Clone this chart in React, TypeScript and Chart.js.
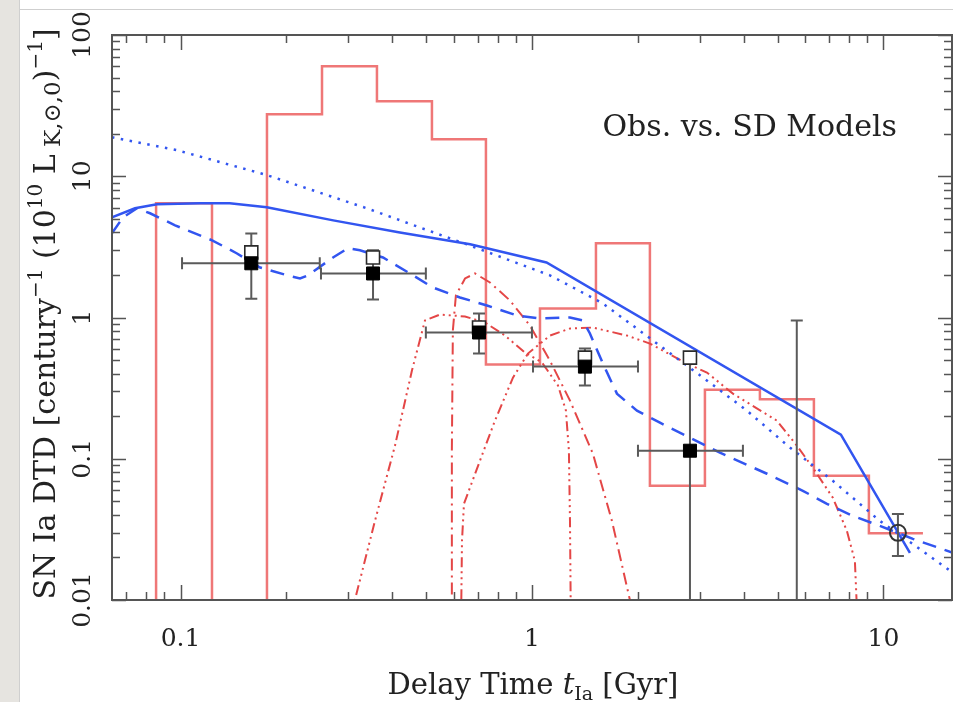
import React, { useEffect, useRef } from "react";
import { Chart, registerables } from "chart.js";

Chart.register(...registerables);

const W = 953;
const H = 702;
const FONT = '"DejaVu Serif", serif';

// Axis ranges and tick labels
const X_MIN = 0.06383;
const X_MAX = 15.78;
const Y_MIN = 0.01;
const Y_MAX = 100;
const xTickValues = [0.1, 1, 10];
const xTickLabels = ["0.1", "1", "10"];
const yTickValues = [0.01, 0.1, 1, 10, 100];
const yTickLabels = ["0.01", "0.1", "1", "10", "100"];

// Red histogram (bin edges in Gyr, heights; 0 = empty bin)
const histEdges = [0.0852, 0.1229, 0.1762, 0.2527, 0.3622, 0.5193, 0.7397, 1.054, 1.521, 2.166, 3.106, 4.453, 6.343, 9.095, 12.96];
const histHeights = [6.43, 0, 27.5, 60, 34, 18.3, 0.464, 1.16, 3.35, 0.0644, 0.308, 0.264, 0.0757, 0.0297];

// Blue solid model
const blueSolidX = [0.0638, 0.0742, 0.0857, 0.1136, 0.138, 0.176, 0.272, 0.421, 0.667, 1.1, 7.57, 11.9];
const blueSolidY = [5.12, 5.93, 6.33, 6.44, 6.44, 6.03, 4.87, 4.0, 3.3, 2.45, 0.148, 0.0216];

// Blue dotted model
const blueDotX = [0.0638, 0.0977, 0.176, 0.339, 0.653, 1.125, 1.59, 2.21, 3.07, 4.09, 5.42, 7.18, 9.77, 12.1, 15.5];
const blueDotY = [18.9, 15.3, 10.2, 5.93, 3.29, 1.99, 1.26, 0.687, 0.375, 0.219, 0.12, 0.0698, 0.0363, 0.025, 0.0161];

// Blue dashed model
const blueDashX = [0.0638, 0.0686, 0.0752, 0.0819, 0.0965, 0.123, 0.1448, 0.1684, 0.201, 0.2188, 0.2306, 0.2716, 0.2996, 0.324, 0.3768, 0.4496, 0.5228, 0.624, 0.7447, 0.9064, 1.054, 1.283, 1.397, 1.462, 1.592, 1.745, 1.99, 2.313, 2.816, 3.426, 4.664, 5.9, 6.91, 8.19, 9.77, 12.13, 15.77];
const blueDashY = [3.94, 5.12, 5.93, 5.47, 4.49, 3.52, 2.84, 2.26, 1.99, 1.89, 1.99, 2.66, 3.09, 2.99, 2.66, 2.05, 1.63, 1.386, 1.216, 1.033, 0.984, 1.0, 0.952, 0.77, 0.472, 0.289, 0.219, 0.18, 0.141, 0.1103, 0.0783, 0.0593, 0.048, 0.0394, 0.0335, 0.0271, 0.0216];

// Red dash-dot component
const redDashDotX = [0.5917, 0.5917, 0.5956, 0.6075, 0.645, 0.6884, 0.7594, 0.8658, 0.987, 1.125, 1.283, 1.491, 1.689, 1.9, 1.976];
const redDashDotY = [0.005, 0.114, 0.809, 1.432, 1.89, 2.05, 1.77, 1.32, 0.877, 0.495, 0.258, 0.1085, 0.0363, 0.01, 0.006];

// Red dash-dot-dot-dot components
const redA_X = [0.3035, 0.3135, 0.3575, 0.4076, 0.4555, 0.4961, 0.5473, 0.645, 0.735, 0.8379, 0.9552, 1.068, 1.186, 1.249, 1.274, 1.283, 1.291];
const redA_Y = [0.0065, 0.01, 0.0363, 0.1237, 0.4208, 0.952, 1.05, 1.016, 0.922, 0.745, 0.565, 0.48, 0.33, 0.22, 0.114, 0.036, 0.006];
const redC_X = [0.6281, 0.6323, 0.6406, 0.7112, 0.7847, 0.883, 0.974, 1.125, 1.283, 1.491, 1.863, 2.166, 2.725, 3.147, 3.731, 4.977, 5.675, 6.302, 7.182, 7.873, 8.297, 8.462];
const redC_Y = [0.006, 0.0262, 0.048, 0.0968, 0.186, 0.3754, 0.5555, 0.745, 0.8356, 0.849, 0.745, 0.654, 0.4796, 0.4074, 0.289, 0.186, 0.1237, 0.0863, 0.0529, 0.0309, 0.0189, 0.006];

// Observations
const obsX = [0.159, 0.353, 0.707, 1.415, 2.816];
const obsXLo = [0.101, 0.251, 0.499, 1.007, 2.003];
const obsXHi = [0.249, 0.499, 1.0, 2.003, 3.984];
const obsFilled = [2.42, 2.05, 0.783, 0.449, 0.114];
const obsOpen = [2.89, 2.66, 0.85, 0.52, 0.52];
const obsYLo = [1.36, 1.34, 0.555, 0.33, 0.001];
const obsYHi = [3.94, 2.99, 1.067, 0.603, 0.52];

// Upper-limit bar (no marker)
const limX = [5.67];
const limLo = [0.001];
const limHi = [0.952];

// Open circle point
const circX = [11.0];
const circY = [0.0299];
const circLo = [0.0205];
const circHi = [0.0407];

const zip = (xs: number[], ys: number[]) => xs.map((x, i) => ({ x, y: ys[i] }));

function histData() {
  const floor = 1e-4;
  const pts = [{ x: histEdges[0], y: floor }];
  for (let i = 0; i < histHeights.length; i++) {
    pts.push({ x: histEdges[i + 1], y: histHeights[i] > 0 ? histHeights[i] : floor });
  }
  return pts;
}

type Run = { t: string; s: number; dy: number; it?: boolean };

function drawRuns(ctx: CanvasRenderingContext2D, runs: Run[], x: number, y: number, align: "left" | "center" | "right") {
  ctx.textAlign = "left";
  ctx.textBaseline = "alphabetic";
  const widths = runs.map((r) => {
    ctx.font = `${r.it ? "italic " : ""}${r.s}px ${FONT}`;
    return ctx.measureText(r.t).width;
  });
  const total = widths.reduce((a, b) => a + b, 0);
  let cx = align === "center" ? x - total / 2 : align === "right" ? x - total : x;
  runs.forEach((r, i) => {
    ctx.font = `${r.it ? "italic " : ""}${r.s}px ${FONT}`;
    ctx.fillText(r.t, cx, y + r.dy);
    cx += widths[i];
  });
}

function drawErrorBars(chart: any) {
  const xs = chart.scales.x;
  const ys = chart.scales.y;
  const ctx: CanvasRenderingContext2D = chart.ctx;
  const { left, right, top, bottom } = chart.chartArea;
  const cap = 6;
  ctx.save();
  ctx.beginPath();
  ctx.rect(left, top, right - left, bottom - top);
  ctx.clip();
  ctx.strokeStyle = "#5a5a5a";
  ctx.lineWidth = 2;
  ctx.beginPath();
  obsX.forEach((x, i) => {
    const px = xs.getPixelForValue(x);
    const py = ys.getPixelForValue(obsFilled[i]);
    const xl = xs.getPixelForValue(obsXLo[i]);
    const xh = xs.getPixelForValue(obsXHi[i]);
    const yl = ys.getPixelForValue(obsYLo[i]);
    const yh = ys.getPixelForValue(obsYHi[i]);
    ctx.moveTo(xl, py); ctx.lineTo(xh, py);
    ctx.moveTo(xl, py - cap); ctx.lineTo(xl, py + cap);
    ctx.moveTo(xh, py - cap); ctx.lineTo(xh, py + cap);
    ctx.moveTo(px, yl); ctx.lineTo(px, yh);
    ctx.moveTo(px - cap, yh); ctx.lineTo(px + cap, yh);
    ctx.moveTo(px - cap, yl); ctx.lineTo(px + cap, yl);
  });
  limX.forEach((x, i) => {
    const px = xs.getPixelForValue(x);
    const yl = ys.getPixelForValue(limLo[i]);
    const yh = ys.getPixelForValue(limHi[i]);
    ctx.moveTo(px, yl); ctx.lineTo(px, yh);
    ctx.moveTo(px - cap, yh); ctx.lineTo(px + cap, yh);
  });
  circX.forEach((x, i) => {
    const px = xs.getPixelForValue(x);
    const yl = ys.getPixelForValue(circLo[i]);
    const yh = ys.getPixelForValue(circHi[i]);
    ctx.moveTo(px, yl); ctx.lineTo(px, yh);
    ctx.moveTo(px - cap, yh); ctx.lineTo(px + cap, yh);
    ctx.moveTo(px - cap, yl); ctx.lineTo(px + cap, yl);
  });
  ctx.stroke();
  ctx.restore();
}

function minorValues(min: number, max: number) {
  const out: { v: number; major: boolean }[] = [];
  for (let e = -3; e <= 2; e++) {
    for (let k = 1; k <= 9; k++) {
      const v = k * Math.pow(10, e);
      if (v >= min * 0.9999 && v <= max * 1.0001) out.push({ v, major: k === 1 });
    }
  }
  return out;
}

const framePlugin = {
  id: "frame",
  beforeDraw(chart: any) {
    const ctx: CanvasRenderingContext2D = chart.ctx;
    ctx.save();
    ctx.fillStyle = "#ffffff";
    ctx.fillRect(0, 0, W, H);
    ctx.fillStyle = "#e6e4e0";
    ctx.fillRect(0, 0, 19, H);
    ctx.strokeStyle = "#cfcfcf";
    ctx.lineWidth = 1;
    ctx.beginPath();
    ctx.moveTo(19.5, 0); ctx.lineTo(19.5, H);
    ctx.moveTo(19, 9.5); ctx.lineTo(W, 9.5);
    ctx.stroke();
    ctx.restore();
  },
  beforeDatasetDraw(chart: any, args: any) {
    if (chart.data.datasets[args.index].label === "Open squares") drawErrorBars(chart);
  },
  afterDraw(chart: any) {
    const ctx: CanvasRenderingContext2D = chart.ctx;
    const xs = chart.scales.x;
    const ys = chart.scales.y;
    const { left, right, top, bottom } = chart.chartArea;
    ctx.save();
    // frame
    ctx.strokeStyle = "#555";
    ctx.lineWidth = 2;
    ctx.strokeRect(left, top, right - left - 1, bottom - top);
    // ticks
    ctx.lineWidth = 1.5;
    ctx.beginPath();
    minorValues(X_MIN, X_MAX).forEach(({ v, major }) => {
      const px = Math.round(xs.getPixelForValue(v)) + 0.5;
      const len = major ? 15 : 8;
      ctx.moveTo(px, bottom); ctx.lineTo(px, bottom - len);
      ctx.moveTo(px, top); ctx.lineTo(px, top + len);
    });
    minorValues(Y_MIN, Y_MAX).forEach(({ v, major }) => {
      const py = Math.round(ys.getPixelForValue(v)) + 0.5;
      const len = major ? 14 : 8;
      ctx.moveTo(left, py); ctx.lineTo(left + len, py);
      ctx.moveTo(right - 1, py); ctx.lineTo(right - 1 - len, py);
    });
    ctx.stroke();

    ctx.fillStyle = "#222";
    // x tick labels
    ctx.font = `25px ${FONT}`;
    ctx.textAlign = "center";
    ctx.textBaseline = "alphabetic";
    xTickValues.forEach((v, i) => {
      ctx.fillText(xTickLabels[i], xs.getPixelForValue(v), 646);
    });
    // y tick labels (rotated)
    yTickValues.forEach((v, i) => {
      ctx.save();
      ctx.translate(90, ys.getPixelForValue(v));
      ctx.rotate(-Math.PI / 2);
      ctx.textAlign = "center";
      ctx.fillText(yTickLabels[i], 0, 0);
      ctx.restore();
    });

    // x title
    drawRuns(
      ctx,
      [
        { t: "Delay Time ", s: 29, dy: 0 },
        { t: "t", s: 29, dy: 0, it: true },
        { t: "Ia", s: 19, dy: 6 },
        { t: " [Gyr]", s: 29, dy: 0 },
      ],
      533,
      694,
      "center"
    );

    // y title
    ctx.save();
    ctx.translate(55, 314);
    ctx.rotate(-Math.PI / 2);
    drawRuns(
      ctx,
      [
        { t: "SN Ia DTD [century", s: 30, dy: 0 },
        { t: "\u22121", s: 20, dy: -13 },
        { t: " (10", s: 30, dy: 0 },
        { t: "10", s: 20, dy: -13 },
        { t: " L", s: 30, dy: 0 },
        { t: " K,\u2299,0", s: 23, dy: 5 },
        { t: ")", s: 30, dy: 0 },
        { t: "\u22121", s: 20, dy: -13 },
        { t: "]", s: 30, dy: 0 },
      ],
      0,
      0,
      "center"
    );
    ctx.restore();

    // annotation
    drawRuns(ctx, [{ t: "Obs. vs. SD Models", s: 30, dy: 0 }], 897, 136, "right");
    ctx.restore();
  },
};

export default function App() {
  const ref = useRef<HTMLCanvasElement | null>(null);

  useEffect(() => {
    const canvas = ref.current;
    if (!canvas) return;
    const BLUE = "rgb(50, 85, 240)";
    const RED = "rgb(228, 70, 70)";
    const HIST = "rgba(236, 95, 95, 0.85)";
    const lineDs = (label: string, data: any[], color: string, width: number, dash: number[], order: number, extra: any = {}) => ({
      label,
      data,
      borderColor: color,
      backgroundColor: color,
      borderWidth: width,
      borderDash: dash,
      pointRadius: 0,
      showLine: true,
      fill: false,
      tension: 0,
      order,
      ...extra,
    });
    const chart = new Chart(canvas, {
      type: "line",
      data: {
        datasets: [
          lineDs("Histogram", histData(), HIST, 2.5, [], 20, { stepped: "after" }),
          lineDs("Red dash-dot", zip(redDashDotX, redDashDotY), RED, 2, [12, 5, 2, 5], 19),
          lineDs("Red A", zip(redA_X, redA_Y), RED, 2, [10, 4, 2, 4, 2, 4, 2, 4], 18),
          lineDs("Red C", zip(redC_X, redC_Y), RED, 2, [10, 4, 2, 4, 2, 4, 2, 4], 17),
          lineDs("Blue dotted", zip(blueDotX, blueDotY), BLUE, 2.5, [2.5, 6.5], 16),
          lineDs("Blue dashed", zip(blueDashX, blueDashY), BLUE, 2.5, [14, 9], 15),
          lineDs("Blue solid", zip(blueSolidX, blueSolidY), BLUE, 2.5, [], 14),
          {
            label: "Open squares",
            data: zip(obsX, obsOpen),
            showLine: false,
            pointStyle: "rect",
            pointRadius: 9.2,
            backgroundColor: "#ffffff",
            borderColor: "#2a2a2a",
            borderWidth: 1.6,
            order: 3,
          },
          {
            label: "Filled squares",
            data: zip(obsX, obsFilled),
            showLine: false,
            pointStyle: "rect",
            pointRadius: 9.2,
            backgroundColor: "#000000",
            borderColor: "#000000",
            borderWidth: 1,
            order: 2,
          },
          {
            label: "Open circle",
            data: zip(circX, circY),
            showLine: false,
            pointStyle: "circle",
            pointRadius: 8,
            backgroundColor: "rgba(0,0,0,0)",
            borderColor: "#333333",
            borderWidth: 2,
            order: 1,
          },
        ] as any,
      },
      options: {
        animation: false,
        responsive: false,
        maintainAspectRatio: false,
        devicePixelRatio: 1,
        layout: { autoPadding: false, padding: { left: 112, top: 35, right: 0, bottom: 102 } },
        plugins: {
          legend: { display: false },
          tooltip: { enabled: false },
          title: { display: false },
        },
        scales: {
          x: { type: "logarithmic", min: X_MIN, max: X_MAX, display: false },
          y: { type: "logarithmic", min: Y_MIN, max: Y_MAX, display: false },
        },
      } as any,
      plugins: [framePlugin as any],
    });
    return () => chart.destroy();
  }, []);

  return (
    <div style={{ position: "absolute", left: 0, top: 0, width: W, height: H }}>
      <canvas ref={ref} width={W} height={H} style={{ width: W, height: H, display: "block" }} />
    </div>
  );
}
